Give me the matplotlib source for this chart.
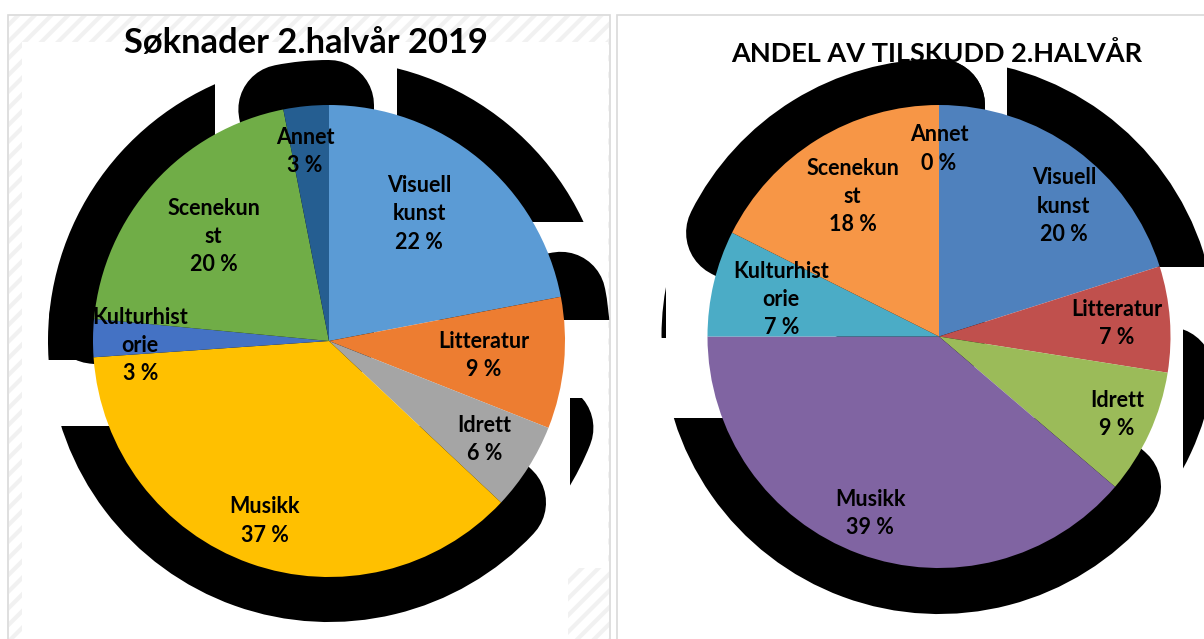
import matplotlib
matplotlib.use("Agg")
import matplotlib.pyplot as plt
from matplotlib.patches import Wedge, Rectangle
import numpy as np

plt.rcParams['font.family'] = ['Lato', 'DejaVu Sans']
plt.rcParams['hatch.linewidth'] = 3.0

# ---------------- data ----------------
categories = ["Visuell kunst", "Litteratur", "Idrett", "Musikk",
              "Kulturhistorie", "Scenekunst", "Annet"]
wrapped = {"Visuell kunst": "Visuell\nkunst", "Kulturhistorie": "Kulturhist\norie",
           "Scenekunst": "Scenekun\nst"}

soknader_values = [22.0, 9.0, 6.0, 36.9, 2.6, 20.4, 3.1]
tilskudd_values = [20.1, 7.4, 8.75, 38.75, 7.4, 17.6, 0.0]

title_left = "Søknader 2.halvår 2019"
title_right = "ANDEL AV TILSKUDD 2.HALVÅR"

colors_left = ["#5B9BD5", "#ED7D31", "#A5A5A5", "#FFC000", "#4472C4", "#70AD47", "#255E91"]
colors_right = ["#4F81BD", "#C0504D", "#9BBB59", "#8064A2", "#4BACC6", "#F79646", "#2C4D75"]

# ---------------- layout (pixels, y up) ----------------
W, H = 1204, 639
fig = plt.figure(figsize=(W / 100, H / 100), dpi=100)
ax = fig.add_axes([0, 0, 1, 1])


def Y(y):  # convert from top-based pixel to axes coordinate
    return H - y


# label placement (fraction of radius, angle tweak in degrees)
label_dist_left = [0.66, 0.66, 0.78, 0.81, 0.80, 0.66, 0.81]
label_dang_left = [4.3, 0, 0, 0, 2, 0, 1.6]
label_dist_right = [0.78, 0.77, 0.84, 0.82, 0.70, 0.71, 0.81]
label_dang_right = [-7.6, 0, 1, -1, 0, 0, 0]

BIG = 1e4
# shadow clip boxes relative to pie centre (xmin, xmax, ymin, ymax); None = unclipped, 'hide' = none
shadow_clip_left = [
    (68, BIG, 119, BIG),
    (-BIG, BIG, 21, BIG),
    (241, BIG, -187, -57),
    (-BIG, BIG, -BIG, -85),
    (-BIG, BIG, -19, BIG),
    (-BIG, -114, -BIG, BIG),
    None,
]
shadow_clip_right = [
    (68, BIG, 69.5, BIG),
    'hide',
    (244, BIG, -143.5, BIG),
    (-BIG, BIG, -BIG, -81.5),
    (-BIG, -273, -1.5, 59.5),
    None,
    None,
]

# panel frames
for (x0, x1) in [(8, 610), (617, 1210)]:
    ax.add_patch(Rectangle((x0, Y(645)), x1 - x0, 630, facecolor="white",
                           edgecolor="#D9D9D9", lw=1.2, zorder=0))
# light hatched margin of left panel
ax.add_patch(Rectangle((9, Y(644)), 600, 628, facecolor="white", edgecolor="#F1F1F1",
                       hatch="//", lw=0, zorder=0.05))
ax.add_patch(Rectangle((22, Y(645)), 546, 603, facecolor="white", lw=0, zorder=0.1))
ax.add_patch(Rectangle((560, Y(568)), 48, 526, facecolor="white", lw=0, zorder=0.1))


def draw_pie(values, colors, cx, cy, R, d, clips, ldist, ldang, title, tx, ty, tsize):
    total = sum(values)
    wedges, _ = ax.pie(values, colors=colors, startangle=90, counterclock=False,
                       center=(cx, cy), radius=R,
                       wedgeprops=dict(linewidth=0, zorder=1))
    # blocky drop-shadow artefacts behind each slice
    for w, clip in zip(wedges, clips):
        if clip == 'hide':
            continue
        sh = Wedge((cx, cy), R, w.theta1, w.theta2, facecolor="black",
                   edgecolor="black", lw=2 * d * 0.72, joinstyle="round",
                   capstyle="round", zorder=0.6)
        ax.add_patch(sh)
        if clip is not None:
            xmin, xmax, ymin, ymax = clip
            rect = Rectangle((cx + xmin, cy + ymin), xmax - xmin, ymax - ymin,
                             transform=ax.transData)
            sh.set_clip_path(rect)
    for w, cat, v, dist, dang in zip(wedges, categories, values, ldist, ldang):
        mid = np.deg2rad((w.theta1 + w.theta2) / 2 + dang)
        x = cx + dist * R * np.cos(mid)
        y = cy + dist * R * np.sin(mid)
        pct = round(100 * v / total)
        txt = f"{wrapped.get(cat, cat)}\n{pct} %"
        ax.text(x, y, txt, ha="center", va="center", multialignment="center",
                fontsize=15.5, fontweight="bold", color="#000000",
                linespacing=1.42, zorder=5)
    ax.text(tx, ty, title, ha="center", va="baseline", fontsize=tsize,
            fontweight="bold", color="#000000", zorder=0.3)


draw_pie(soknader_values, colors_left, 329, Y(341), 236, 45, shadow_clip_left,
         label_dist_left, label_dang_left, title_left, 306, Y(53), 24.8)
draw_pie(tilskudd_values, colors_right, 939, Y(336.5), 231.5, 46, shadow_clip_right,
         label_dist_right, label_dang_right, title_right, 937, Y(62), 19.5)

ax.set_xlim(0, W)
ax.set_ylim(0, H)
ax.set_aspect("auto")
ax.axis("off")

fig.savefig("out.png", dpi=100)
